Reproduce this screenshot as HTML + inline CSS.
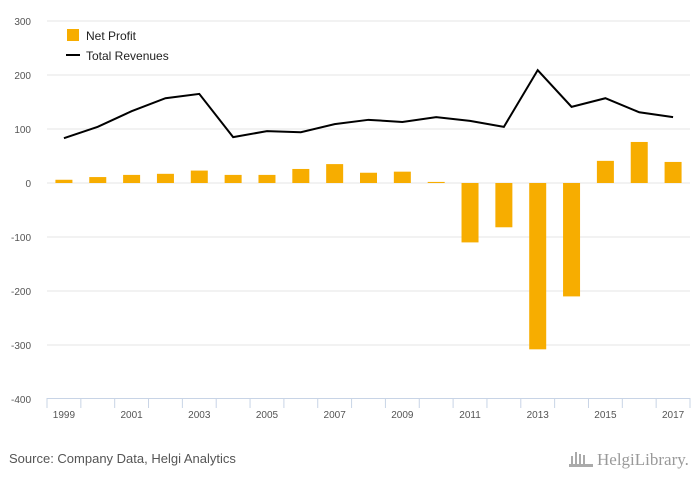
<!DOCTYPE html>
<html><head><meta charset="utf-8"><style>
body{margin:0;background:#fff;}
svg{display:block;font-family:"Liberation Sans",sans-serif;}
</style></head><body>
<svg id="c" width="700" height="483">
<rect width="700" height="483" fill="#ffffff"/>
<g id="grid"></g><g id="bars"></g><g id="line"></g><g id="axes"></g>
<g>
<rect x="67" y="29" width="12" height="12" fill="#f7ad00"/>
<text x="86" y="40" font-size="12" fill="#222">Net Profit</text>
<line x1="66" y1="55" x2="80" y2="55" stroke="#000" stroke-width="2"/>
<text x="86" y="60" font-size="12" fill="#222">Total Revenues</text>
</g>
<text x="9" y="463" font-size="13" fill="#555">Source: Company Data, Helgi Analytics</text>
<text x="597" y="465" font-size="17" fill="#999" font-family="Liberation Serif,serif">HelgiLibrary.</text>
<g fill="#aaa"><rect x="571" y="456" width="2" height="10"/><rect x="575" y="452" width="2" height="14"/><rect x="579" y="454" width="2" height="12"/><rect x="583" y="455" width="2" height="11"/><rect x="569" y="464" width="24" height="3"/></g>
</svg>
<script>
const years=[1999,2000,2001,2002,2003,2004,2005,2006,2007,2008,2009,2010,2011,2012,2013,2014,2015,2016,2017];
const netProfit=[6,11,15,17,23,15,15,26,35,19,21,2,-110,-82,-308,-210,41,76,39];
const revenues=[83,104,133,157,165,85,96,94,109,117,113,122,115,104,209,141,157,131,122];
const yTicks=[300,200,100,0,-100,-200,-300,-400];
const NS="http://www.w3.org/2000/svg";
const x0=47,x1=690,step=(x1-x0)/years.length;
const y=v=>183-v*0.54;
const xc=i=>x0+step*(i+0.5);
function mk(t,a,p){const e=document.createElementNS(NS,t);for(const k in a)e.setAttribute(k,a[k]);p.appendChild(e);return e;}
const G=document.getElementById('grid'),B=document.getElementById('bars'),L=document.getElementById('line'),A=document.getElementById('axes');
yTicks.forEach(v=>{
 if(v>-400){const g=mk('line',{x1:x0,x2:x1,y1:y(v),y2:y(v),stroke:'#e6e6e6'},G);
 
 }
 const t=mk('text',{x:31,y:y(v)+4,'font-size':10,fill:'#555','text-anchor':'end'},A);t.textContent=v;
 
 
});
netProfit.forEach((v,i)=>{
 const r=mk('rect',{x:xc(i)-8.5,width:17,y:Math.min(y(v),y(0)),height:Math.abs(y(v)-y(0)),fill:'#f7ad00'},B);
 
 
});
const p=mk('path',{d:revenues.map((v,i)=>(i?'L':'M')+xc(i)+','+y(v)).join(''),fill:'none',stroke:'#000','stroke-width':2},L);


const ax=mk('line',{x1:x0,x2:x1,y1:398.5,y2:398.5,stroke:'#c8d4e6'},A);


for(let i=0;i<=years.length;i++){
 const tk=mk('line',{x1:x0+step*i,x2:x0+step*i,y1:398,y2:408,stroke:'#c8d4e6'},A);
 
 
}
years.forEach((yr,i)=>{if(i%2)return;
 const t=mk('text',{x:xc(i),y:418,'font-size':10,fill:'#555','text-anchor':'middle'},A);t.textContent=yr;
 
 
});
</script>
</body></html>
